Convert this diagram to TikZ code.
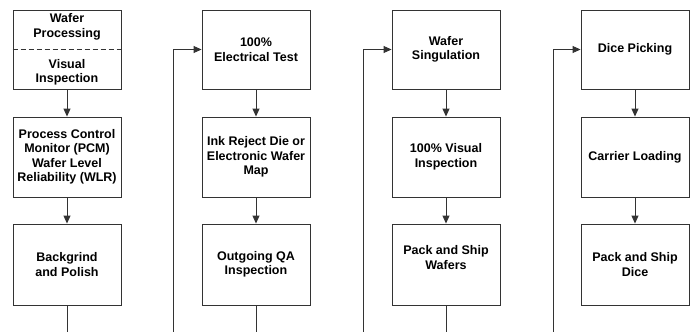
\documentclass[tikz,border=0pt]{standalone}
\usepackage{fontspec}
\setmainfont{Liberation Sans}
\usetikzlibrary{arrows.meta}
\begin{document}
\begin{tikzpicture}[x=1pt,y=-1pt,
  stepbox/.style={draw=black!80, line width=0.9pt, fill=white, minimum width=108pt, inner sep=0pt,
     align=center, font=\fontsize{12.5}{14.5}\selectfont\bfseries},
  txt/.style={inner sep=0pt, align=center, font=\fontsize{12.5}{14.5}\selectfont\bfseries},
  conn/.style={draw=black!80, line width=0.9pt},
  arr/.style={conn, -{Triangle[length=8pt,width=7pt]}}]
\useasboundingbox (0,0) rectangle (694,332);
% column 1
\node[stepbox, minimum height=79pt] (b11) at (67,49.5) {};
\node[txt] (t11a) at (67,27) {Wafer\\Processing};
\node[txt] (t11b) at (67,72.5) {Visual\\Inspection};
\draw[conn, dash pattern=on 5pt off 3pt] (b11.west) -- (b11.east);
\node[stepbox, minimum height=80pt] (b12) at (67,157) {Process Control\\Monitor (PCM)\\Wafer Level\\Reliability (WLR)};
\node[stepbox, minimum height=81pt] (b13) at (67,264.5) {Backgrind\\and Polish};
\coordinate (e1) at (67,332);
\draw[arr] (b11) -- (b12);
\draw[arr] (b12) -- (b13);
\draw[conn] (b13) -- (e1);
% column 2
\node[stepbox, minimum height=79pt] (b21) at (256,49.5) {100\%\\Electrical Test};
\node[stepbox, minimum height=80pt] (b22) at (256,157) {Ink Reject Die or\\Electronic Wafer\\Map};
\node[stepbox, minimum height=81pt] (b23) at (256,264.5) {Outgoing QA\\Inspection};
\coordinate (f2) at (173,332);
\coordinate (e2) at (256,332);
\draw[arr] (f2) |- (b21.west);
\draw[arr] (b21) -- (b22);
\draw[arr] (b22) -- (b23);
\draw[conn] (b23) -- (e2);
% column 3
\node[stepbox, minimum height=79pt] (b31) at (446,49.5) {Wafer\\Singulation};
\node[stepbox, minimum height=80pt] (b32) at (446,157) {100\% Visual\\Inspection};
\node[stepbox, minimum height=81pt] (b33) at (446,264.5) {Pack and Ship\\Wafers\\\mbox{}};
\coordinate (f3) at (363,332);
\coordinate (e3) at (446,332);
\draw[arr] (f3) |- (b31.west);
\draw[arr] (b31) -- (b32);
\draw[arr] (b32) -- (b33);
\draw[conn] (b33) -- (e3);
% column 4
\node[stepbox, minimum height=79pt] (b41) at (635,49.5) {Dice Picking};
\node[stepbox, minimum height=80pt] (b42) at (635,157) {Carrier Loading};
\node[stepbox, minimum height=81pt] (b43) at (635,264.5) {Pack and Ship\\Dice};
\coordinate (f4) at (553,332);
\draw[arr] (f4) |- (b41.west);
\draw[arr] (b41) -- (b42);
\draw[arr] (b42) -- (b43);
\end{tikzpicture}
\end{document}
